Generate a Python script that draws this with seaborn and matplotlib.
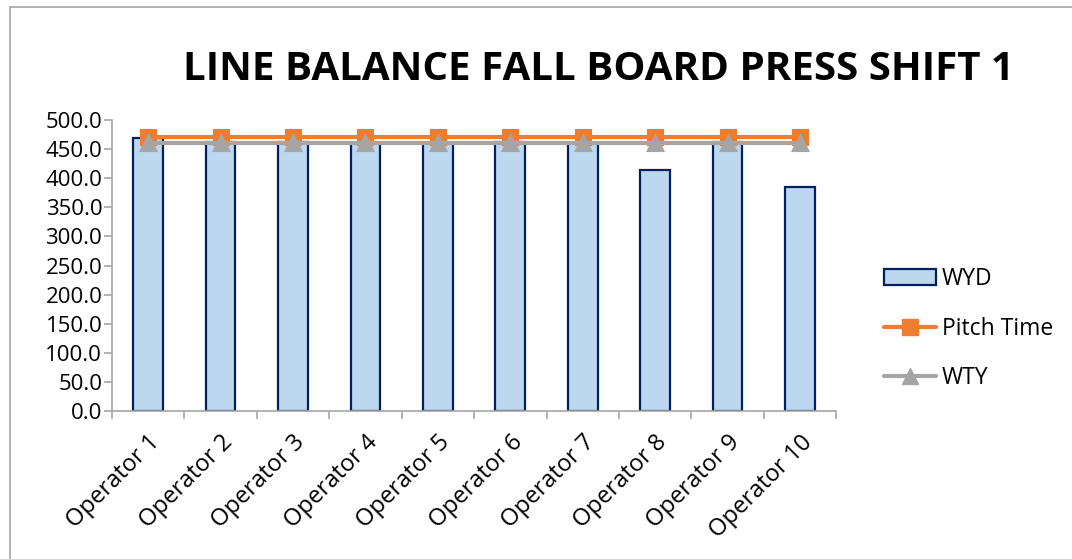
import matplotlib
matplotlib.use("Agg")
import matplotlib.pyplot as plt
import matplotlib.transforms as mtransforms
import seaborn as sns
from matplotlib.patches import Patch, Rectangle
from matplotlib.lines import Line2D

operators = ["Operator 1", "Operator 2", "Operator 3", "Operator 4", "Operator 5",
             "Operator 6", "Operator 7", "Operator 8", "Operator 9", "Operator 10"]
wyd = [469, 462, 462, 461, 461, 462, 461, 414, 463, 385]
pitch_time = [470] * 10
wty = [460.5] * 10
y_ticks = [0, 50, 100, 150, 200, 250, 300, 350, 400, 450, 500]

sns.set_theme(style="white")
plt.rcParams["font.family"] = ["Open Sans", "DejaVu Sans"]
plt.rcParams["text.color"] = "black"

fig = plt.figure(figsize=(10.72, 5.59), dpi=100)
ax = fig.add_axes([0.1045, 0.2647, 0.6755, 0.5206])

bar_fill = "#BDD7EE"
bar_edge = "#002060"
orange = "#ED7D31"
gray = "#A5A5A5"

sns.barplot(x=operators, y=wyd, color=bar_fill, edgecolor=bar_edge, linewidth=1.6,
            width=0.41, saturation=1, ax=ax)
sns.pointplot(x=operators, y=pitch_time, color=orange, marker="s", markersize=10,
              linewidth=3, ax=ax)
sns.pointplot(x=operators, y=wty, color=gray, marker="^", markersize=10,
              linewidth=3, ax=ax)

ax.set_xlim(-0.5, 9.5)
ax.set_ylim(0, 500)
ax.set_yticks(y_ticks)
ax.set_yticklabels([f"{v:.1f}" for v in y_ticks], fontsize=16, color="black")
ax.set_xticks(range(len(operators)))
ax.set_xticklabels(operators, rotation=45, ha="right", rotation_mode="anchor",
                   fontsize=17, color="black")
offset = mtransforms.ScaledTranslation(12 / 100, 0, fig.dpi_scale_trans)
for lbl in ax.get_xticklabels():
    lbl.set_transform(lbl.get_transform() + offset)
ax.set_xlabel("")
ax.set_ylabel("")

for s in ["top", "right"]:
    ax.spines[s].set_visible(False)
for s in ["left", "bottom"]:
    ax.spines[s].set_color("#A6A6A6")
    ax.spines[s].set_linewidth(1.2)

ax.tick_params(axis="y", which="major", left=True, length=6, color="#A6A6A6", width=1.2, pad=1)
ax.tick_params(axis="x", which="major", bottom=False, pad=8)
ax.set_xticks([i + 0.5 for i in range(-1, 10)], minor=True)
ax.tick_params(axis="x", which="minor", bottom=True, length=6, color="#A6A6A6", width=1.2)

fig.text(0.558, 0.875, "LINE BALANCE FALL BOARD PRESS SHIFT 1", ha="center", va="center",
         fontsize=29, fontweight="bold", color="black")

handles = [
    Patch(facecolor=bar_fill, edgecolor=bar_edge, linewidth=1.6),
    Line2D([0], [0], color=orange, lw=3, marker="s", markersize=11),
    Line2D([0], [0], color=gray, lw=3, marker="^", markersize=11),
]
fig.legend(handles, ["WYD", "Pitch Time", "WTY"], loc="center left",
           bbox_to_anchor=(0.805, 0.412), frameon=False, fontsize=16.5,
           handlelength=2.3, labelspacing=1.1, handletextpad=0.25, labelcolor="black")

fig.patches.append(Rectangle((0.009, -0.01), 1.5, 0.998, transform=fig.transFigure,
                             fill=False, edgecolor="#A6A6A6", linewidth=1.2))

fig.savefig("out.png", dpi=100)
